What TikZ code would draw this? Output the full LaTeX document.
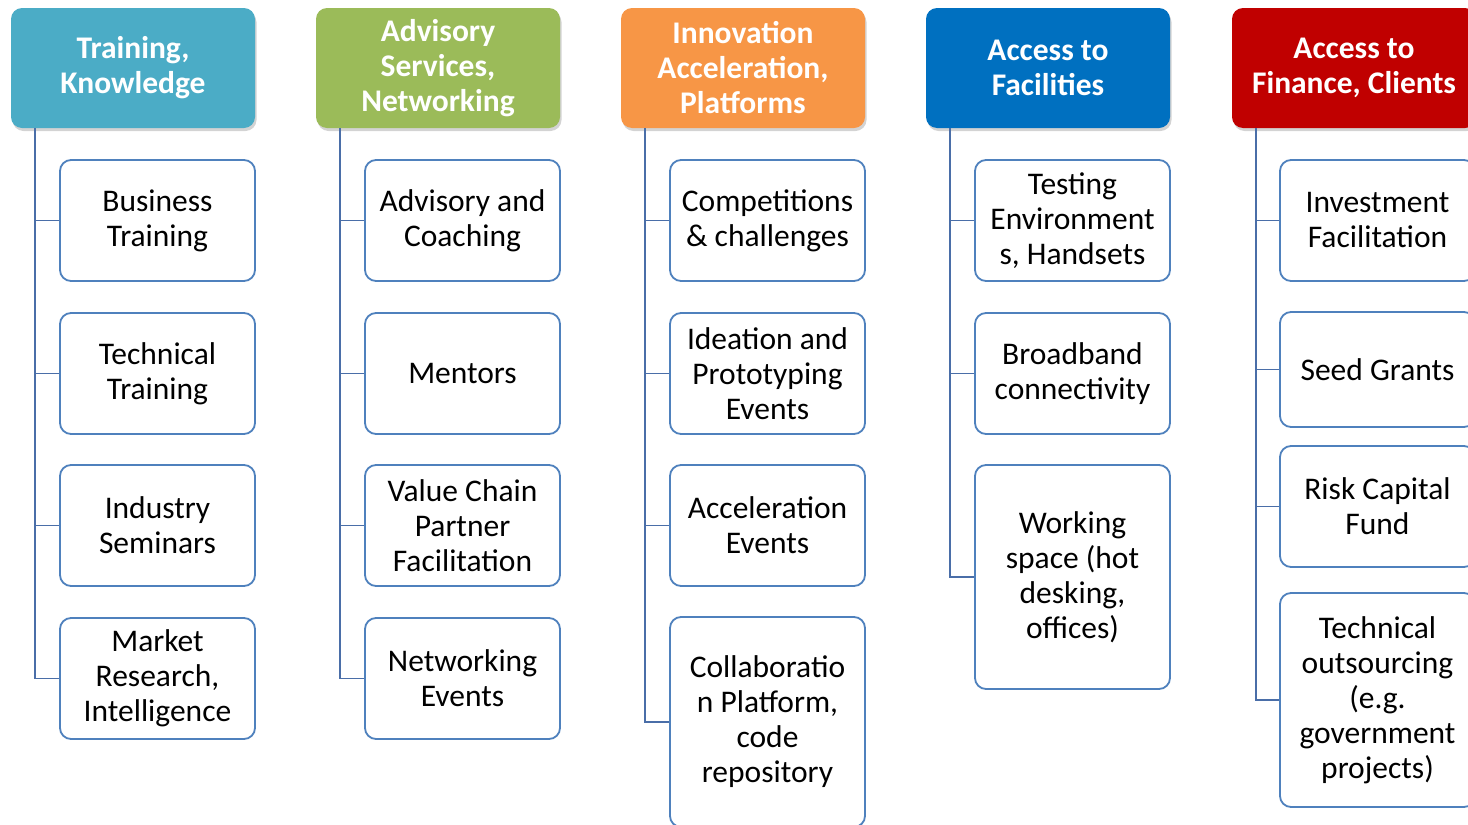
\documentclass[tikz,border=0pt]{standalone}
\usepackage{fontspec}
\setmainfont{Carlito}
\usepackage{xcolor}
\usetikzlibrary{shadows,calc}

\definecolor{hteal}{HTML}{4BACC6}
\definecolor{hgreen}{HTML}{9BBB59}
\definecolor{horange}{HTML}{F79646}
\definecolor{hblue}{HTML}{0070C0}
\definecolor{hred}{HTML}{C00000}
\definecolor{edge}{HTML}{4F81BD}
\definecolor{trunk}{HTML}{4A6EA8}

\begin{document}
\begin{tikzpicture}[
    x=1pt, y=-1pt,
    head/.style={rounded corners=11pt, minimum width=244pt, minimum height=120pt, align=center,
        text=white, font=\fontsize{31.5}{35}\selectfont\bfseries, inner sep=2pt,
        drop shadow={opacity=0.35, shadow xshift=1.5pt, shadow yshift=-3pt}},
    item/.style={draw=edge, line width=1.8pt, rounded corners=11pt, fill=white, minimum width=195pt,
        minimum height=121pt, align=center, font=\fontsize{31.5}{35}\selectfont, inner sep=2pt},
    link/.style={draw=trunk, line width=1.8pt},
]
    \useasboundingbox (0,0) rectangle (1468,825);

    % headers
    \node[head, fill=hteal] (train) at (133,68) {Training,\\Knowledge};
    \node[head, fill=hgreen] (advise) at (438,68) {Advisory\\Services,\\Networking};
    \node[head, fill=horange] (innov) at (743,68) {Innovation\\Acceleration,\\Platforms};
    \node[head, fill=hblue] (facil) at (1048,68) {Access to\\Facilities};
    \node[head, fill=hred] (finance) at (1354,68) {Access to\\Finance, Clients};

    % column 1
    \node[item] (bustrain) at (157.5,220.5) {Business\\Training};
    \node[item] (techtrain) at (157.5,373.5) {Technical\\Training};
    \node[item] (seminars) at (157.5,525.5) {Industry\\Seminars};
    \node[item] (market) at (157.5,678.5) {Market\\Research,\\Intelligence};

    % column 2
    \node[item] (coaching) at (462.5,220.5) {Advisory and\\Coaching};
    \node[item] (mentors) at (462.5,373.5) {Mentors};
    \node[item] (valuechain) at (462.5,525.5) {Value Chain\\Partner\\Facilitation};
    \node[item] (netevents) at (462.5,678.5) {Networking\\Events};

    % column 3
    \node[item] (compet) at (767.5,220.5) {Competitions\\\& challenges};
    \node[item] (ideation) at (767.5,373.5) {Ideation and\\Prototyping\\Events};
    \node[item] (accel) at (767.5,525.5) {Acceleration\\Events};
    \node[item, minimum height=210pt] (collab) at (767.5,722) {Collaboratio\\n Platform,\\code\\repository};

    % column 4
    \node[item] (testing) at (1072.5,220.5) {Testing\\Environment\\s, Handsets};
    \node[item] (broadband) at (1072.5,373.5) {Broadband\\connectivity};
    \node[item, minimum height=224pt] (workspace) at (1072.5,577) {Working\\space (hot\\desking,\\offices)};

    % column 5
    \node[item] (invest) at (1377.5,220.5) {Investment\\Facilitation};
    \node[item, minimum height=115pt] (seed) at (1377.5,369.5) {Seed Grants};
    \node[item] (riskcap) at (1377.5,506.5) {Risk Capital\\Fund};
    \node[item, minimum height=214pt] (outsrc) at (1377.5,700) {Technical\\outsourcing\\(e.g.\\government\\projects)};

    % connectors
    \foreach \h/\c in {train/bustrain, train/techtrain, train/seminars, train/market,
        advise/coaching, advise/mentors, advise/valuechain, advise/netevents,
        innov/compet, innov/ideation, innov/accel, innov/collab,
        facil/testing, facil/broadband, facil/workspace,
        finance/invest, finance/seed, finance/riskcap, finance/outsrc}
        \draw[link] ([xshift=24pt]\h.south west) |- (\c.west);
\end{tikzpicture}
\end{document}
